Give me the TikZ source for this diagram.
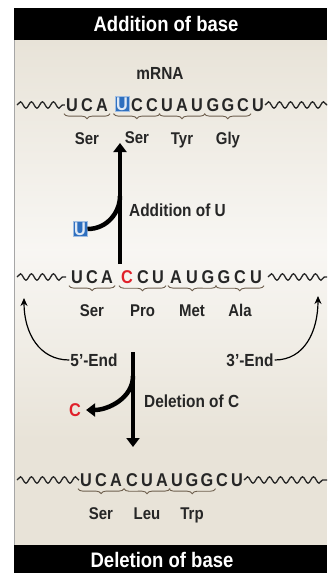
\documentclass[tikz,border=0pt]{standalone}
\usepackage{fontspec}
\setmainfont{Liberation Sans}[FakeStretch=0.88]
\usetikzlibrary{calc}
\usetikzlibrary{positioning}
\usetikzlibrary{arrows.meta}
\usetikzlibrary{decorations.pathreplacing, decorations.pathmorphing}

\definecolor{panelbg}{HTML}{E8E3D8}
\definecolor{ink}{HTML}{262626}
\definecolor{bracecol}{HTML}{6E5F4E}
\definecolor{ublue}{HTML}{2E6FBF}
\definecolor{cred}{HTML}{E0202A}

\tikzset{
  letter/.style={font=\fontsize{18.5}{20}\selectfont\bfseries, text=ink, inner sep=1pt},
  aa/.style={font=\fontsize{17}{19}\selectfont\bfseries, text=ink, inner sep=1pt, text height=12pt, text depth=3pt},
  note/.style={font=\fontsize{17.5}{19}\selectfont\bfseries, text=ink, inner sep=1pt},
  banner/.style={font=\fontsize{21}{23}\selectfont\bfseries, text=white},
  newbase/.style={letter, fill=ublue, draw=ublue!45!white, line width=0.8pt, text=ublue!15!white, inner sep=1.2pt},
  codon/.style={draw=bracecol, line width=0.9pt, decorate, decoration={brace, mirror, amplitude=5pt, raise=1pt}},
  wave/.style={draw=ink, line width=1.3pt, decorate, decoration={snake, segment length=11pt, amplitude=3.2pt}},
  bigline/.style={line width=4.5pt},
  bigarrow/.style={line width=4.5pt, -{Triangle[width=13pt,length=9pt]}},
  thinarrow/.style={line width=1.2pt, -{Stealth[width=7pt,length=8pt]}},
}

\begin{document}
\begin{tikzpicture}[x=1pt, y=-1pt]
    \useasboundingbox (0,0) rectangle (327,573);
    % panel
    \shade[top color=panelbg, bottom color=white!70!panelbg] (14,40) rectangle (327,250);
    \shade[top color=white!70!panelbg, bottom color=panelbg] (14,250) rectangle (327,440);
    \fill[panelbg] (14,440) rectangle (327,545);
    \draw[gray!70, line width=0.6pt] (14,40) -- (14,545);
    \fill[black] (14,8) rectangle (327,40);
    \fill[black] (14,545) rectangle (327,573);
    \node[banner] (head) at (166,24) {Addition of base};
    \node[banner] (foot) at (162,560) {Deletion of base};

    % top strand, U added
    \node[note] (mrna) at (160,73) {mRNA};
    \foreach \b/\x/\n in {U/72/1, C/87/2, A/102/3, C/137/5, C/152/6, U/167/7, A/182/8,
                          U/197/9, G/213/10, G/228/11, C/243/12, U/258/13} {
        \node[letter] (t\n) at (\x,105) {\b};
    }
    \node[newbase] (t4) at (122,104) {U};
    \draw[wave] (17,105) -- (t1.west);
    \draw[wave] (t13.east) -- (327,105);
    \foreach \a/\c/\aa [count=\k] in {1/3/Ser, 4/6/Ser, 7/9/Tyr, 10/12/Gly} {
        \draw[codon] ([xshift=-1pt]t\a.south west |- t1.south) -- ([xshift=1pt]t\c.south east |- t1.south);
        \node[aa] (ta\k) at ($(t\a.south)!.5!(t\c.south)+(0,27)$) {\aa};
    }

    % middle strand
    \foreach \b/\x/\n in {U/77/1, C/92/2, A/107/3, C/143/5, U/158/6, A/176/7,
                          U/192/8, G/208/9, G/224/10, C/240/11, U/256/12} {
        \node[letter] (m\n) at (\x,277) {\b};
    }
    \node[letter, text=cred] (m4) at (127,277) {C};
    \draw[wave] (17,277) -- (66,277);
    \draw[wave] (268,277) -- (327,277);
    \foreach \a/\c/\aa [count=\k] in {1/3/Ser, 4/6/Pro, 7/9/Met, 10/12/Ala} {
        \draw[codon] ([xshift=-1pt]m\a.south west) -- ([xshift=1pt]m\c.south east);
        \node[aa] (ma\k) at ($(m\a.south)!.5!(m\c.south)+(0,27)$) {\aa};
    }

    % ends
    \node[note] (five) at (94,360) {5'-End};
    \node[note] (three) at (250,360) {3'-End};
    \coordinate (lefttip) at (24,298);
    \coordinate (righttip) at (318,296);
    \draw[thinarrow] (five.west) .. controls +(-30,0) and +(0,35) .. (lefttip);
    \draw[thinarrow] (three.east) .. controls +(30,0) and +(0,35) .. (righttip);

    % addition of U
    \coordinate (addfoot) at (120,264);
    \coordinate (addtip) at (120,143);
    \coordinate (addjoin) at (120,196);
    \node[newbase] (unew) at (80,229) {U};
    \draw[bigarrow] (addfoot) -- (addtip);
    \draw[bigline] (unew.east) .. controls +(20,0) and +(0,16) .. (addjoin);
    \node[note, anchor=west] (addlab) at (128,210) {Addition of U};

    % deletion of C
    \coordinate (deltop) at (133,352);
    \coordinate (delend) at (133,447);
    \coordinate (delfork) at (133,376);
    \node[letter, text=cred] (cdel) at (75,410) {C};
    \draw[bigarrow] (deltop) -- (delend);
    \draw[bigarrow] (delfork) .. controls +(0,22) and +(22,0) .. ([xshift=4pt]cdel.east);
    \node[note, anchor=west] (dellab) at (143,401) {Deletion of C};

    % bottom strand, C removed
    \foreach \b/\x/\n in {U/86/1, C/101/2, A/116/3, C/132/4, U/147/5, A/162/6,
                          U/177/7, G/192/8, G/207/9, C/222/10, U/237/11} {
        \node[letter] (b\n) at (\x,480) {\b};
    }
    \draw[wave] (17,480) -- (b1.west);
    \draw[wave] (b11.east) -- (327,480);
    \foreach \a/\c/\aa [count=\k] in {1/3/Ser, 4/6/Leu, 7/9/Trp} {
        \draw[codon] ([xshift=-1pt]b\a.south west) -- ([xshift=1pt]b\c.south east);
        \node[aa] (ba\k) at ($(b\a.south)!.5!(b\c.south)+(0,27)$) {\aa};
    }
\end{tikzpicture}
\end{document}
